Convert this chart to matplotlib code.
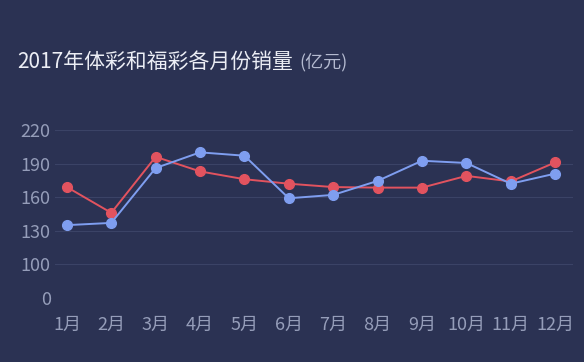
import numpy as np
import matplotlib
matplotlib.use('Agg')
import matplotlib.pyplot as plt

plt.rcParams['font.family'] = ['Noto Sans CJK SC', 'DejaVu Sans']

# data (亿元)
months = ['1月', '2月', '3月', '4月', '5月', '6月', '7月', '8月', '9月', '10月', '11月', '12月']
fucai = [169, 146, 196, 183, 176, 172, 169, 168.5, 168.5, 179, 174, 191]
ticai = [135, 137, 186, 200, 197, 159, 162, 174.5, 192.5, 190.5, 172, 181]
yticks = [0, 100, 130, 160, 190, 220]

bg = '#2b3253'

# broken y axis: 0..100 squeezed into one step of 30
def fwd(v):
    v = np.asarray(v, dtype=float)
    return np.where(v < 100, 70 + v * 0.3, v)

def inv(p):
    p = np.asarray(p, dtype=float)
    return np.where(p < 100, (p - 70) / 0.3, p)

fig = plt.figure(figsize=(5.84, 3.62), dpi=100, facecolor=bg)
ax = fig.add_axes([0.094, 0.177, 0.887, 0.464])
ax.set_facecolor(bg)
ax.set_yscale('function', functions=(fwd, inv))

x = np.arange(len(months))
ax.plot(x, fucai, color='#e2535f', lw=1.4, marker='o', ms=7, zorder=3)
ax.plot(x, ticai, color='#7f9ef0', lw=1.4, marker='o', ms=7, zorder=3)

ax.set_ylim(0, 220)
ax.set_xlim(-0.27, 11.4)
ax.set_yticks(yticks)
ax.set_yticklabels([str(t) for t in yticks])
ax.set_xticks(x)
ax.set_xticklabels(months)
ax.yaxis.grid(True, color='#3b4366', lw=0.8)
ax.set_axisbelow(True)
for s in ax.spines.values():
    s.set_visible(False)
ax.tick_params(axis='both', length=0, colors='#959db9', labelsize=13)
ax.tick_params(axis='y', pad=3)
ax.tick_params(axis='x', pad=13)
ax.set_yticks([], minor=True)

fig.text(0.029, 0.83, '2017年体彩和福彩各月份销量', color='#eceef5', fontsize=15, va='center')
fig.text(0.512, 0.828, '(亿元)', color='#b4bad0', fontsize=13, va='center')

fig.savefig('out.png', dpi=100, facecolor=bg)
